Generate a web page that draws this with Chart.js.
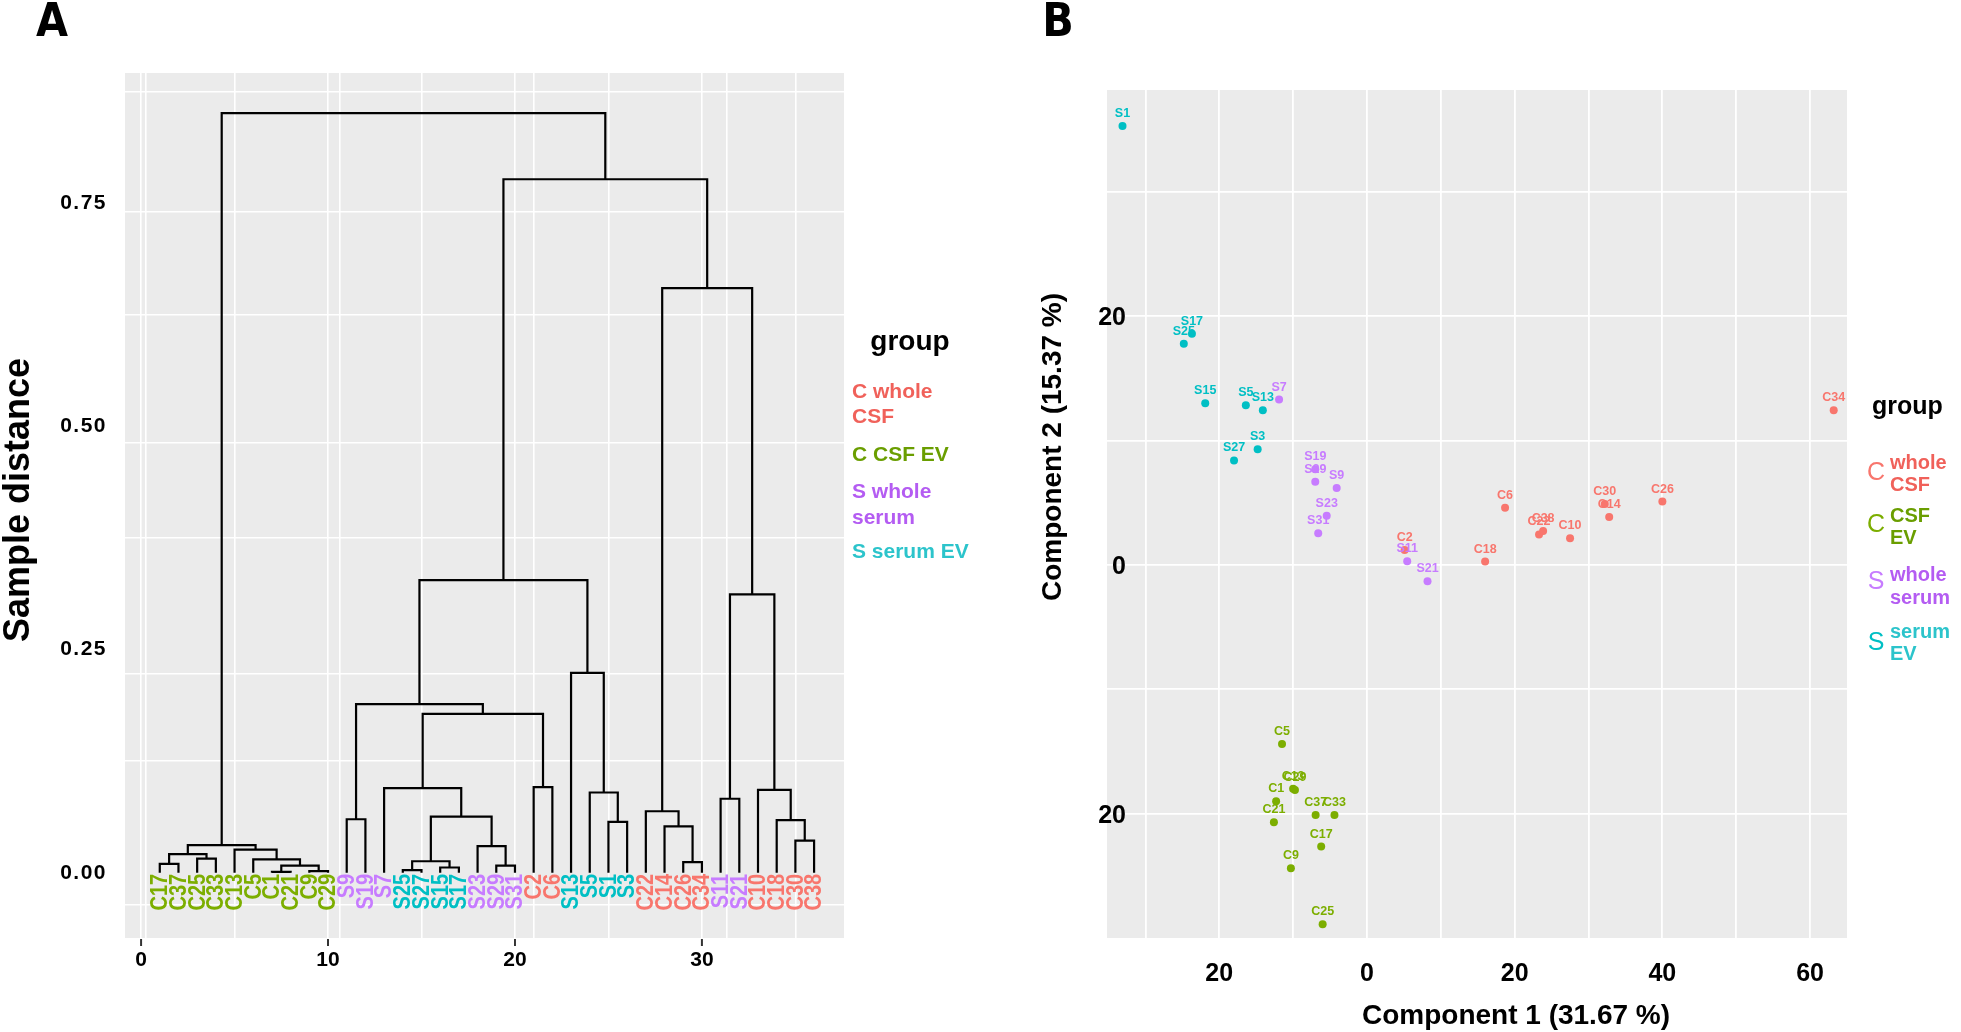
<!DOCTYPE html>
<html>
<head>
<meta charset="utf-8">
<script src="https://cdn.jsdelivr.net/npm/chart.js@4.4.0/dist/chart.umd.min.js"></script>
<style>
html, body { margin: 0; padding: 0; background: #fff; }
#wrap { position: relative; width: 1961px; height: 1032px; }
canvas { position: absolute; top: 0; }
#dendro { left: 0; width: 980px; height: 1032px; }
#pca { left: 980px; width: 981px; height: 1032px; }
</style>
</head>
<body>
<div id="wrap">
  <canvas id="dendro" width="980" height="1032"></canvas>
  <canvas id="pca" width="981" height="1032"></canvas>
</div>
<script>
// groups
var groupNames = ['C whole CSF', 'C CSF EV', 'S whole serum', 'S serum EV'];
var groupColors = ['#F8766D', '#7CAE00', '#C77CFF', '#00BFC4'];
var groupTextColors = ['#F0615A', '#6A9E00', '#B45CF2', '#2CC4CB'];
var wholeCSF = ['C2', 'C6', 'C10', 'C14', 'C18', 'C22', 'C26', 'C30', 'C34', 'C38'];
var csfEV = ['C1', 'C5', 'C9', 'C13', 'C17', 'C21', 'C25', 'C29', 'C33', 'C37'];
var wholeSerum = ['S7', 'S9', 'S11', 'S19', 'S21', 'S23', 'S29', 'S31'];
var serumEV = ['S1', 'S3', 'S5', 'S13', 'S15', 'S17', 'S25', 'S27'];

// dendrogram (panel A)
var leafOrder = ['C17', 'C37', 'C25', 'C33', 'C13', 'C5', 'C1', 'C21', 'C9', 'C29',
  'S9', 'S19', 'S7', 'S25', 'S27', 'S15', 'S17', 'S23', 'S29', 'S31',
  'C2', 'C6', 'S13', 'S5', 'S1', 'S3', 'C22', 'C14', 'C26', 'C34',
  'S11', 'S21', 'C10', 'C18', 'C30', 'C38'];
// children: leaf name, or number of an earlier merge (1-based)
var mergeLeft = ['C1', 'C9', 'S25', 'S15', 'S29', 1, 'C17', 'C26', 3, 'C5', 'C25', 7,
  'C13', 'S23', 12, 'C30', 'C14', 'S1', 'C18', 'S9', 9, 'C22', 'S11', 'S5', 'C10',
  'S7', 'C2', 26, 20, 'S13', 23, 29, 22, 32, 15];
var mergeRight = ['C21', 'C29', 'S27', 'S17', 'S31', 2, 'C37', 'C34', 4, 6, 'C33', 11,
  10, 5, 13, 'C38', 8, 'S3', 16, 'S19', 14, 17, 'S21', 18, 19,
  21, 'C6', 27, 28, 24, 25, 30, 31, 33, 34];
var mergeHeight = [0.001, 0.002, 0.003, 0.006, 0.008, 0.008, 0.010, 0.012, 0.013, 0.015, 0.016, 0.021,
  0.026, 0.030, 0.031, 0.036, 0.052, 0.057, 0.059, 0.060, 0.063, 0.069, 0.083, 0.090, 0.093,
  0.095, 0.096, 0.178, 0.189, 0.224, 0.312, 0.328, 0.655, 0.777, 0.851];
var yTicksA = [0, 0.25, 0.5, 0.75];
var yTickLabelsA = ['0.00', '0.25', '0.50', '0.75'];
var xTicksA = [0, 10, 20, 30];

// PCA (panel B)
var sampleNames = ['S1', 'S17', 'S25', 'S15', 'S5', 'S13', 'S3', 'S27',
  'S7', 'S19', 'S29', 'S9', 'S23', 'S31', 'S11', 'S21',
  'C2', 'C6', 'C10', 'C14', 'C18', 'C22', 'C26', 'C30', 'C34', 'C38',
  'C5', 'C13', 'C29', 'C1', 'C21', 'C37', 'C33', 'C17', 'C9', 'C25'];
var comp1 = [-33.1, -23.7, -24.8, -21.9, -16.4, -14.1, -14.8, -18.0,
  -11.9, -7.0, -7.0, -4.1, -5.45, -6.6, 5.45, 8.2,
  5.1, 18.7, 27.5, 32.8, 16.0, 23.3, 40.0, 32.2, 63.2, 23.85,
  -11.5, -10.0, -9.75, -12.3, -12.6, -6.95, -4.4, -6.2, -10.3, -6.0];
var comp2 = [35.3, 18.6, 17.8, 13.0, 12.85, 12.45, 9.3, 8.4,
  13.3, 7.7, 6.7, 6.2, 3.96, 2.55, 0.3, -1.3,
  1.2, 4.6, 2.14, 3.86, 0.27, 2.46, 5.1, 4.9, 12.45, 2.73,
  -14.4, -18.0, -18.1, -19.0, -20.7, -20.1, -20.1, -22.65, -24.4, -28.9];
var xTicksB = [-20, 0, 20, 40, 60];
var xTickLabelsB = ['20', '0', '20', '40', '60'];
var yTicksB = [-20, 0, 20];
var yTickLabelsB = ['20', '0', '20'];

var FONT = '"Liberation Sans", Arial, Helvetica, sans-serif';

function groupOf(name) {
  if (wholeCSF.indexOf(name) >= 0) return 0;
  if (csfEV.indexOf(name) >= 0) return 1;
  if (wholeSerum.indexOf(name) >= 0) return 2;
  return 3;
}

// build the dendrogram segments from the merge list
var nodeX = [];
function childPos(c) {
  if (typeof c === 'string') return { x: leafOrder.indexOf(c) + 1, h: 0 };
  return { x: nodeX[c - 1], h: mergeHeight[c - 1] };
}
var dendroSets = [];
for (var i = 0; i < mergeHeight.length; i++) {
  var a = childPos(mergeLeft[i]);
  var b = childPos(mergeRight[i]);
  var h = mergeHeight[i];
  nodeX[i] = (a.x + b.x) / 2;
  dendroSets.push({
    data: [{ x: a.x, y: a.h }, { x: a.x, y: h }, { x: b.x, y: h }, { x: b.x, y: b.h }],
    showLine: true, borderColor: '#000', borderWidth: 2.2,
    pointRadius: 0, fill: false, tension: 0
  });
}

// panel A has two slightly offset grid layers (figure was composited)
var gridXA = [0, 5, 10, 15, 20, 25, 30, 35].concat(xTicksA.map(function(v) { return 0.27 + v * 1.036; }));
var gridYA = [0.125, 0.375, 0.625, 0.875].concat(yTicksA.map(function(v) { return -0.036 + v * 1.035; }));
gridXA.sort(function(p, q) { return p - q; });
gridYA.sort(function(p, q) { return p - q; });

function grayPanel(chart) {
  var ar = chart.chartArea, ctx = chart.ctx;
  ctx.save();
  ctx.fillStyle = '#EBEBEB';
  ctx.fillRect(ar.left, ar.top, ar.right - ar.left, ar.bottom - ar.top);
  ctx.restore();
}

function fixedTicks(vals) {
  return function(scale) { scale.ticks = vals.map(function(v) { return { value: v }; }); };
}

var dendroText = {
  id: 'dendroText',
  beforeDraw: grayPanel,
  afterDraw: function(chart) {
    var ctx = chart.ctx, xs = chart.scales.x, ys = chart.scales.y;
    ctx.save();
    // leaf labels
    ctx.font = 'bold 23px ' + FONT;
    ctx.textAlign = 'right';
    ctx.textBaseline = 'middle';
    leafOrder.forEach(function(name, k) {
      ctx.save();
      ctx.translate(xs.getPixelForValue(k + 1) + 1, ys.getPixelForValue(0) + 1);
      ctx.rotate(-Math.PI / 2);
      ctx.scale(0.87, 1);
      ctx.fillStyle = groupColors[groupOf(name)];
      ctx.fillText(name, 0, 0);
      ctx.restore();
    });
    // y tick labels
    ctx.fillStyle = '#000';
    ctx.font = 'bold 21px ' + FONT;
    ctx.letterSpacing = '1.5px';
    yTicksA.forEach(function(v, k) {
      ctx.fillText(yTickLabelsA[k], 107, ys.getPixelForValue(v));
    });
    ctx.letterSpacing = '0px';
    // x ticks
    ctx.textAlign = 'center';
    ctx.font = 'bold 21px ' + FONT;
    ctx.strokeStyle = '#333';
    ctx.lineWidth = 2;
    xTicksA.forEach(function(v) {
      var px = xs.getPixelForValue(v);
      ctx.beginPath(); ctx.moveTo(px, 939); ctx.lineTo(px, 946); ctx.stroke();
      ctx.fillText(String(v), px, 960);
    });
    // axis title
    ctx.save();
    ctx.translate(19, 500);
    ctx.rotate(-Math.PI / 2);
    ctx.font = 'bold 36px ' + FONT;
    ctx.fillText('Sample distance', 0, 0);
    ctx.restore();
    // panel letter
    ctx.font = 'bold 46px "Liberation Sans Narrow", "DejaVu Sans Condensed", ' + FONT;
    ctx.fillText('A', 52, 24);
    // legend
    ctx.font = 'bold 28px ' + FONT;
    ctx.fillText('group', 910, 342);
    ctx.textAlign = 'left';
    ctx.font = 'bold 21px ' + FONT;
    var lines = [['C whole', 392, 0], ['CSF', 417, 0], ['C CSF EV', 455, 1],
      ['S whole', 492, 2], ['serum', 518, 2], ['S serum EV', 552, 3]];
    lines.forEach(function(l) {
      ctx.fillStyle = groupTextColors[l[2]];
      ctx.fillText(l[0], 852, l[1]);
    });
    ctx.restore();
  }
};

new Chart(document.getElementById('dendro'), {
  type: 'scatter',
  data: { datasets: dendroSets },
  options: {
    responsive: false,
    animation: false,
    layout: { padding: { left: 125, top: 73, right: 136, bottom: 94 } },
    plugins: { legend: { display: false }, tooltip: { enabled: false } },
    scales: {
      x: {
        type: 'linear', min: -0.86, max: 37.6,
        afterBuildTicks: fixedTicks(gridXA),
        ticks: { display: false },
        grid: { color: '#FFFFFF', lineWidth: 1.6, drawTicks: false },
        border: { display: false }
      },
      y: {
        type: 'linear', min: -0.073, max: 0.896,
        afterBuildTicks: fixedTicks(gridYA),
        ticks: { display: false },
        grid: { color: '#FFFFFF', lineWidth: 1.6, drawTicks: false },
        border: { display: false }
      }
    }
  },
  plugins: [dendroText]
});

// PCA panel
var pcaSets = groupNames.map(function(g, gi) {
  var pts = [];
  sampleNames.forEach(function(n, k) {
    if (groupOf(n) === gi) pts.push({ x: comp1[k], y: comp2[k], name: n });
  });
  return {
    label: g, data: pts,
    backgroundColor: groupColors[gi], borderWidth: 0,
    pointRadius: 4, pointHoverRadius: 4
  };
});

var pcaText = {
  id: 'pcaText',
  beforeDraw: grayPanel,
  afterDatasetsDraw: function(chart) {
    var ctx = chart.ctx;
    ctx.save();
    ctx.font = 'bold 12.5px ' + FONT;
    ctx.textAlign = 'center';
    ctx.textBaseline = 'middle';
    chart.data.datasets.forEach(function(ds, di) {
      var meta = chart.getDatasetMeta(di);
      ctx.fillStyle = groupColors[di];
      meta.data.forEach(function(el, k) {
        ctx.fillText(ds.data[k].name, el.x, el.y - 12.5);
      });
    });
    ctx.restore();
  },
  afterDraw: function(chart) {
    var ctx = chart.ctx, xs = chart.scales.x, ys = chart.scales.y;
    ctx.save();
    ctx.fillStyle = '#000';
    ctx.textBaseline = 'middle';
    ctx.font = 'bold 25px ' + FONT;
    ctx.textAlign = 'right';
    yTicksB.forEach(function(v, k) {
      ctx.fillText(yTickLabelsB[k], 146, ys.getPixelForValue(v) + 2);
    });
    ctx.textAlign = 'center';
    ctx.font = 'bold 25px ' + FONT;
    xTicksB.forEach(function(v, k) {
      ctx.fillText(xTickLabelsB[k], xs.getPixelForValue(v), 974);
    });
    ctx.font = 'bold 28px ' + FONT;
    ctx.fillText('Component 1 (31.67 %)', 536, 1016);
    ctx.save();
    ctx.translate(73, 447);
    ctx.rotate(-Math.PI / 2);
    ctx.fillText('Component 2 (15.37 %)', 0, 0);
    ctx.restore();
    ctx.font = 'bold 46px "Liberation Sans Narrow", "DejaVu Sans Condensed", ' + FONT;
    ctx.fillText('B', 78, 24);
    // legend
    ctx.textAlign = 'left';
    ctx.font = 'bold 25px ' + FONT;
    ctx.fillText('group', 892, 407);
    var items = [['whole', 'CSF', 473, 463, 485, 'C'], ['CSF', 'EV', 525, 516, 538, 'C'],
      ['whole', 'serum', 582, 575, 598, 'S'], ['serum', 'EV', 643, 632, 654, 'S']];
    items.forEach(function(it, gi) {
      ctx.textAlign = 'center';
      ctx.font = '25px ' + FONT;
      ctx.fillStyle = groupColors[gi];
      ctx.fillText(it[5], 896, it[2]);
      ctx.textAlign = 'left';
      ctx.font = 'bold 20px ' + FONT;
      ctx.fillStyle = groupTextColors[gi];
      ctx.fillText(it[0], 910, it[3]);
      ctx.fillText(it[1], 910, it[4]);
    });
    ctx.restore();
  }
};

new Chart(document.getElementById('pca'), {
  type: 'scatter',
  data: { datasets: pcaSets },
  options: {
    responsive: false,
    animation: false,
    layout: { padding: { left: 127, top: 90, right: 114, bottom: 94 } },
    plugins: { legend: { display: false }, tooltip: { enabled: false } },
    scales: {
      x: {
        type: 'linear', min: -35.2, max: 65.0,
        afterBuildTicks: fixedTicks([-30, -20, -10, 0, 10, 20, 30, 40, 50, 60]),
        ticks: { display: false },
        grid: { color: '#FFFFFF', lineWidth: 1.8, drawTicks: false },
        border: { display: false }
      },
      y: {
        type: 'linear', min: -30.0, max: 38.2,
        afterBuildTicks: fixedTicks([-20, -10, 0, 10, 20, 30]),
        ticks: { display: false },
        grid: { color: '#FFFFFF', lineWidth: 1.8, drawTicks: false },
        border: { display: false }
      }
    }
  },
  plugins: [pcaText]
});
</script>
</body>
</html>
